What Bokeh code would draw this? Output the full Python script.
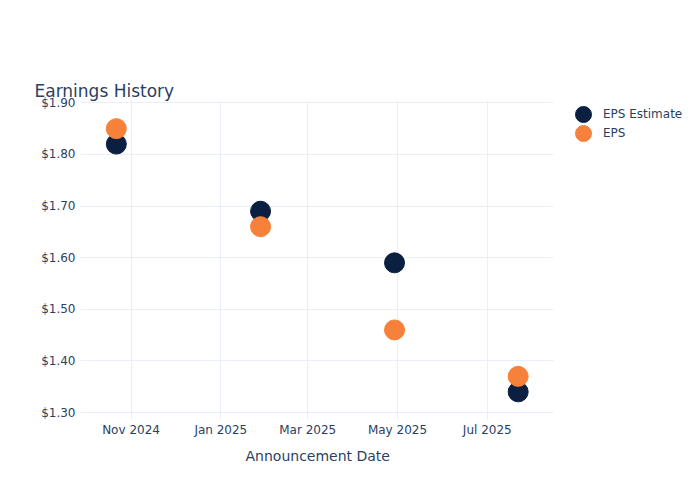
from datetime import datetime
from bokeh.plotting import figure
from bokeh.models import (ColumnDataSource, Legend, LegendItem, Range1d, Title,
                          NumeralTickFormatter, DatetimeTickFormatter, FixedTicker)
from bokeh.embed import file_html
from bokeh.resources import INLINE

# ---- data ----
dates = ["2024-10-22", "2025-01-28", "2025-04-29", "2025-07-22"]
eps_estimate = [1.82, 1.69, 1.59, 1.34]
eps_actual = [1.85, 1.66, 1.46, 1.37]
x_tick_dates = ["2024-11-01", "2025-01-01", "2025-03-01", "2025-05-01", "2025-07-01"]
y_ticks = [1.30, 1.40, 1.50, 1.60, 1.70, 1.80, 1.90]

FONT = "DejaVu Sans"
TXT = "#2a3f5f"
GRID = "#ebf0f8"
NAVY = "#0b1f40"
ORANGE = "#f7813a"

def to_dt(s):
    return datetime.strptime(s, "%Y-%m-%d")

def to_ms(d):
    return (d - datetime(1970, 1, 1)).total_seconds() * 1000.0

# layout: plot area 473px wide, legend area to its right inside the frame
PLOT_W, FRAME_W = 473, 620
x_start = datetime(2024, 9, 27, 16)
x_data_end = datetime(2025, 8, 15)
x_end = x_start + (x_data_end - x_start) * (FRAME_W / PLOT_W)
y_start, y_end = 1.2845, 1.9045

xs = [to_dt(d) for d in dates]
src_est = ColumnDataSource(dict(x=xs, y=eps_estimate))
src_act = ColumnDataSource(dict(x=xs, y=eps_actual))

p = figure(frame_width=FRAME_W, frame_height=320, x_axis_type="datetime",
           output_backend="svg", toolbar_location=None,
           min_border_left=80, min_border_right=0,
           min_border_top=100, min_border_bottom=80,
           x_range=Range1d(x_start, x_end),
           y_range=Range1d(y_start, y_end),
           title="Earnings History")
p.outline_line_color = None
p.background_fill_color = "white"
p.border_fill_color = "white"

r_est = p.scatter("x", "y", source=src_est, size=20, color=NAVY, line_color=NAVY)
r_act = p.scatter("x", "y", source=src_act, size=20, color=ORANGE, line_color=ORANGE)

# title (a blank spacer panel sits between it and the plot frame)
p.title.text_font = FONT
p.title.text_font_size = "17px"
p.title.text_font_style = "normal"
p.title.text_color = TXT
p.title.align = "left"
p.title.offset = -46
p.title.standoff = 0
spacer = Title(text=".", text_font_size="1px", text_alpha=0, standoff=44)
p.above = list(p.above) + [spacer]

# axes
p.xaxis.ticker = FixedTicker(ticks=[to_ms(to_dt(d)) for d in x_tick_dates])
p.xaxis.formatter = DatetimeTickFormatter(months="%b %Y", days="%b %Y",
                                          years="%b %Y", hours="%b %Y")
p.yaxis.ticker = FixedTicker(ticks=y_ticks)
p.yaxis.formatter = NumeralTickFormatter(format="$0.00")
for ax in (p.xaxis, p.yaxis):
    ax.axis_line_color = None
    ax.major_tick_line_color = None
    ax.minor_tick_line_color = None
    ax.major_tick_out = 0
    ax.minor_tick_out = 0
    ax.major_label_text_font = FONT
    ax.major_label_text_font_size = "12px"
    ax.major_label_text_color = TXT
p.yaxis.major_label_standoff = 5
p.xaxis.major_label_standoff = 2

# x axis title, centred under the plot area (not the legend area)
xtitle = Title(text="Announcement Date", align="left", offset=165,
               text_font=FONT, text_font_size="14px", text_font_style="normal",
               text_color=TXT, standoff=12)
p.add_layout(xtitle, "below")

xg = p.xgrid[0]
yg = p.ygrid[0]
for g in (xg, yg):
    g.grid_line_color = GRID
    g.grid_line_width = 1
if hasattr(yg, "cross_bounds"):
    yg.cross_bounds = (to_ms(x_start), to_ms(x_data_end))
else:
    yg.grid_line_color = None
    p.segment(x0=[x_start] * len(y_ticks), x1=[x_data_end] * len(y_ticks),
              y0=y_ticks, y1=y_ticks, line_color=GRID, line_width=1, level="underlay")

def make_legend(label, renderer, loc):
    return Legend(items=[LegendItem(label=label, renderers=[renderer])],
                  location=loc, margin=0, padding=0,
                  glyph_width=40, glyph_height=40, spacing=0,
                  label_standoff=0, label_text_font=FONT,
                  label_text_font_size="12px", label_text_color=TXT,
                  border_line_color=None, background_fill_alpha=0)

p.add_layout(make_legend("EPS Estimate", r_est, (483, 286)))
p.add_layout(make_legend("EPS", r_act, (483, 267)))

open("out.html", "w").write(file_html(p, INLINE))
